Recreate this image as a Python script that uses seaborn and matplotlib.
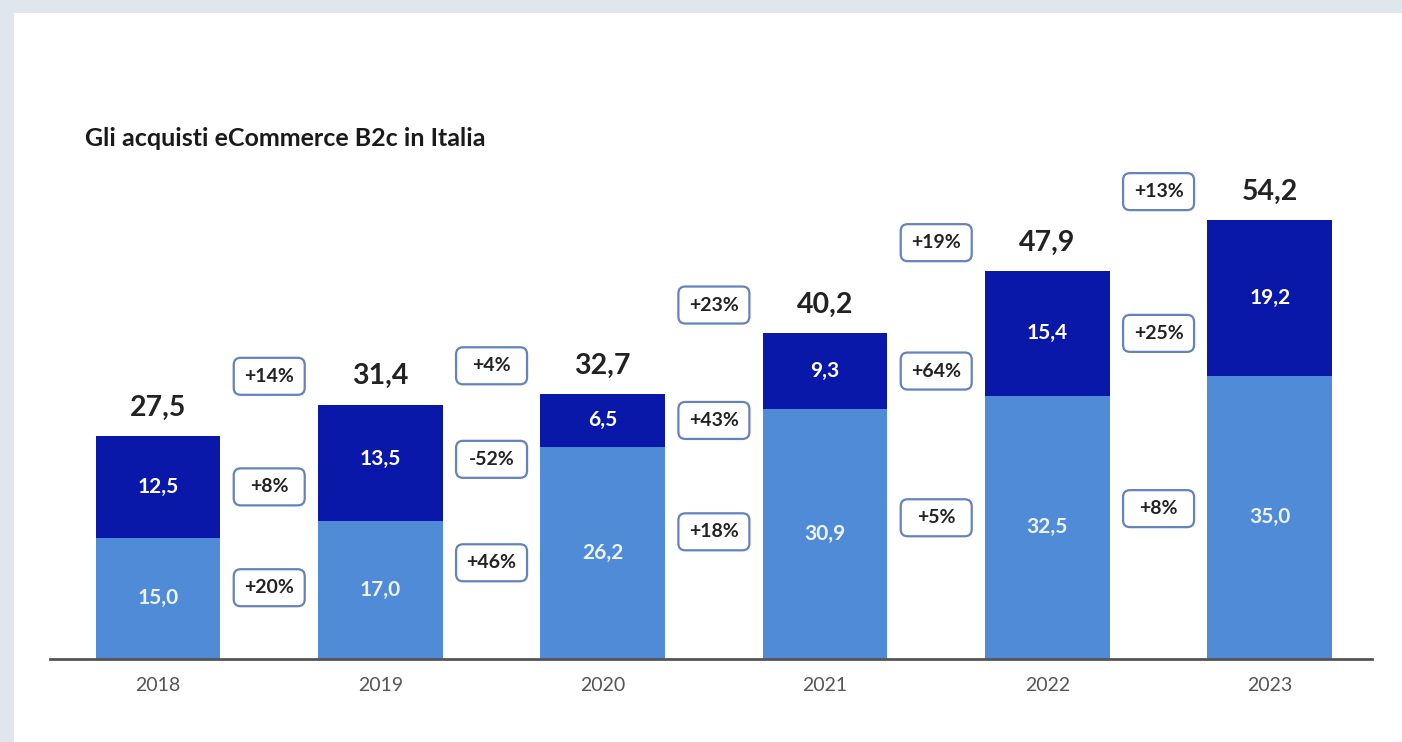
import matplotlib
matplotlib.use("Agg")
import matplotlib.pyplot as plt
from matplotlib.patches import FancyBboxPatch, Rectangle
from matplotlib.transforms import ScaledTranslation
import seaborn as sns
import pandas as pd

# --- data (billions of euro) ---
years = ["2018", "2019", "2020", "2021", "2022", "2023"]
prodotti = [15.0, 17.0, 26.2, 30.9, 32.5, 35.0]      # lower segment
servizi = [12.5, 13.5, 6.5, 9.3, 15.4, 19.2]          # upper segment
totali = [27.5, 31.4, 32.7, 40.2, 47.9, 54.2]
crescita_totale = ["+14%", "+4%", "+23%", "+19%", "+13%"]
crescita_servizi = ["+8%", "-52%", "+43%", "+64%", "+25%"]
crescita_prodotti = ["+20%", "+46%", "+18%", "+5%", "+8%"]
titolo = "Gli acquisti eCommerce B2c in Italia"

DARK = "#0a18aa"
LIGHT = "#4f8bd6"
BOX_EDGE = "#6482bd"
FONT = "Lato"

sns.set_theme(style="white")
plt.rcParams["font.family"] = [FONT, "DejaVu Sans"]

df = pd.DataFrame({"anno": years, "prodotti": prodotti, "servizi": servizi, "totale": totali})

W, H, DPI = 1402, 742, 100
fig = plt.figure(figsize=(W / DPI, H / DPI), dpi=DPI, facecolor="#dfe6ee")
fig.add_artist(Rectangle((14 / W, 0), 1 - 14 / W, 1 - 13 / H, transform=fig.transFigure,
                         facecolor="white", edgecolor="none", zorder=0))

ax = fig.add_axes([50 / W, (H - 659) / H, 1322 / W, 486 / H])
ax.set_facecolor("none")

# stacked bars: full total in dark blue, lower segment overlaid in light blue
sns.barplot(data=df, x="anno", y="totale", color=DARK, saturation=1, width=0.56,
            linewidth=0, ax=ax)
sns.barplot(data=df, x="anno", y="prodotti", color=LIGHT, saturation=1, width=0.56,
            linewidth=0, ax=ax)

ax.set_xlim(-0.486, 5.46)
ax.set_ylim(0, 60)
ax.set_xlabel("")
ax.set_ylabel("")
ax.set_yticks([])
for s in ["top", "left", "right"]:
    ax.spines[s].set_visible(False)
ax.spines["bottom"].set_color("#555555")
ax.spines["bottom"].set_linewidth(2)
ax.spines["bottom"].set_zorder(5)
ax.tick_params(axis="x", length=0, pad=13, labelsize=14, labelcolor="#555555")

LABEL_GAP = 3.5  # data units between bar top and total label centre

def fmt(v):
    return f"{v:.1f}".replace(".", ",")

for i in range(len(years)):
    ax.text(i, totali[i] + LABEL_GAP, fmt(totali[i]), ha="center", va="center",
            fontsize=20.5, fontweight="bold", color="#222222")
    ax.text(i, totali[i] - servizi[i] / 2, fmt(servizi[i]), ha="center", va="center",
            fontsize=15, fontweight="bold", color="white")
    ax.text(i, prodotti[i] / 2, fmt(prodotti[i]), ha="center", va="center",
            fontsize=15, fontweight="bold", color="#eef3fc")

BOX_W, BOX_H = 0.71, 0.37  # inches

def growth_box(x, y, label):
    tr = fig.dpi_scale_trans + ScaledTranslation(x, y, ax.transData)
    patch = FancyBboxPatch((-BOX_W / 2, -BOX_H / 2), BOX_W, BOX_H,
                           boxstyle="round,pad=0,rounding_size=0.07",
                           transform=tr, facecolor="white", edgecolor=BOX_EDGE,
                           linewidth=1.6, zorder=6, clip_on=False)
    ax.add_artist(patch)
    ax.text(x, y, label, ha="center", va="center", fontsize=14,
            fontweight="bold", color="#222222", zorder=7)

for i in range(len(years) - 1):
    xm = i + 0.5
    growth_box(xm, totali[i + 1] + LABEL_GAP, crescita_totale[i])
    growth_box(xm, totali[i] - servizi[i] / 2, crescita_servizi[i])
    growth_box(xm, 0.55 * (prodotti[i] + prodotti[i + 1]) / 2, crescita_prodotti[i])

fig.text(85 / W, 1 - 146 / H, titolo, ha="left", va="baseline",
         fontsize=18, fontweight="bold", color="#1a1a1a")

fig.savefig("out.png", dpi=DPI, facecolor=fig.get_facecolor())
